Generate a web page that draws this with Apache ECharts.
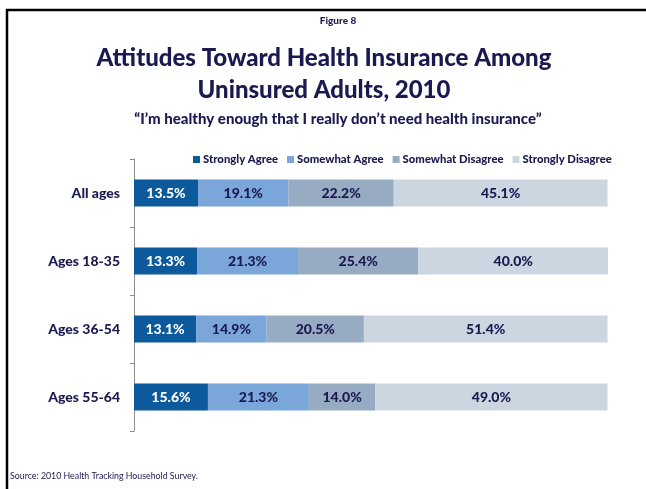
<!DOCTYPE html>
<html><head><meta charset="utf-8">
<script src="https://cdn.jsdelivr.net/npm/echarts@6/dist/echarts.min.js"></script>
<style>html,body{margin:0;padding:0;background:#fff}#c{width:646px;height:489px}</style>
</head><body><div id="c"></div>
<script>
const categories = ['All ages', 'Ages 18-35', 'Ages 36-54', 'Ages 55-64'];
const seriesNames = ['Strongly Agree', 'Somewhat Agree', 'Somewhat Disagree', 'Strongly Disagree'];
const stronglyAgree = [13.5, 13.3, 13.1, 15.6];
const somewhatAgree = [19.1, 21.3, 14.9, 21.3];
const somewhatDisagree = [22.2, 25.4, 20.5, 14.0];
const stronglyDisagree = [45.1, 40.0, 51.4, 49.0];

const colors = ['#0C5A9C', '#7BA6DA', '#97ACC3', '#CBD6E0'];
const labelColors = ['#FFFFFF', '#1A1A50', '#1A1A50', '#1A1A50'];
const FONT = 'Lato';
const NAVY = '#1A1A50';
const W = 900;
const values = [stronglyAgree, somewhatAgree, somewhatDisagree, stronglyDisagree];

const chart = echarts.init(document.getElementById('c'), null, {renderer: 'canvas'});
chart.setOption({
  animation: false,
  backgroundColor: '#fff',
  graphic: [
    {type: 'polyline', shape: {points: [[7, 489], [7, 10], [646, 10]]}, style: {stroke: '#000', lineWidth: 2.5, fill: null}},
    {type: 'text', x: 338, y: 16, style: {text: 'Figure 8', font: W + ' 10px ' + FONT, fill: NAVY, align: 'center', verticalAlign: 'top'}},
    {type: 'text', x: 324, y: 42, style: {text: 'Attitudes Toward Health Insurance Among\nUninsured Adults, 2010', font: W + ' 24px ' + FONT, fill: NAVY, align: 'center', verticalAlign: 'top', lineHeight: 32}},
    {type: 'text', x: 338, y: 112, style: {text: '\u201cI\u2019m healthy enough that I really don\u2019t need health insurance\u201d', font: W + ' 15px ' + FONT, fill: NAVY, align: 'center', verticalAlign: 'top'}},
    {type: 'text', x: 10, y: 472, style: {text: 'Source: 2010 Health Tracking Household Survey.', font: '8.8px ' + FONT, fill: NAVY, verticalAlign: 'top'}}
  ],
  legend: {
    top: 149, left: 188,
    itemWidth: 7, itemHeight: 7, itemGap: 9,
    icon: 'rect',
    textStyle: {fontFamily: FONT, fontWeight: W, fontSize: 11.3, color: NAVY, padding: [0, 0, 0, -2]},
    data: seriesNames
  },
  grid: {left: 134, right: 38, top: 159, bottom: 58, containLabel: false},
  xAxis: {type: 'value', min: 0, max: 100, show: false},
  yAxis: {
    type: 'category', inverse: true, data: categories,
    axisLine: {show: true, lineStyle: {color: '#8C8C8C', width: 1}},
    axisTick: {show: true, length: 4, lineStyle: {color: '#8C8C8C'}},
    axisLabel: {fontFamily: FONT, fontWeight: W, fontSize: 14, color: NAVY, margin: 14}
  },
  series: seriesNames.map((n, i) => ({
    name: n, type: 'bar', stack: 'total', barWidth: 27,
    data: values[i],
    itemStyle: {color: colors[i]},
    label: {show: true, position: 'inside', formatter: p => p.value.toFixed(1) + '%',
      fontFamily: FONT, fontWeight: W, fontSize: 14, color: labelColors[i]}
  }))
});
</script></body></html>
